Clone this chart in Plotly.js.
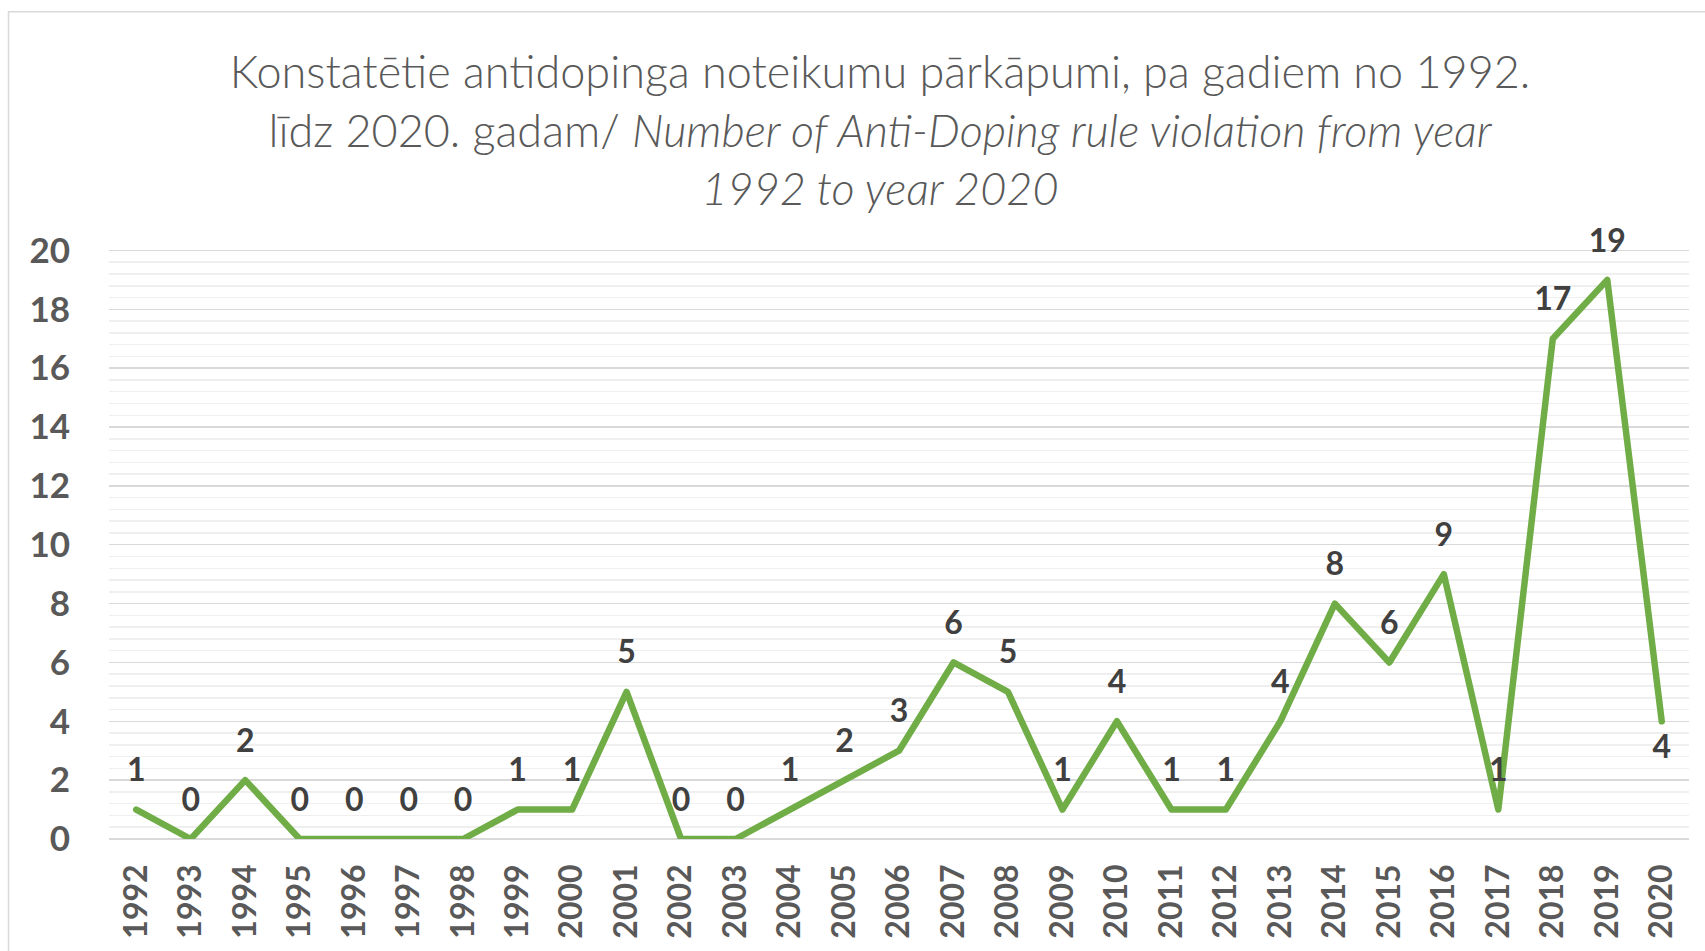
<!DOCTYPE html>
<html>
<head>
<meta charset="utf-8">
<script src="https://cdn.plot.ly/plotly-3.0.1.min.js"></script>
<style>
  html, body { margin: 0; padding: 0; background: #ffffff; }
  #chart { width: 1705px; height: 951px; }
  #chart .js-line { stroke-linejoin: round !important; stroke-linecap: round !important; }
</style>
</head>
<body>
<div id="chart"></div>
<script>
// ---- Data ----
const years = ['1992','1993','1994','1995','1996','1997','1998','1999','2000','2001',
               '2002','2003','2004','2005','2006','2007','2008','2009','2010','2011',
               '2012','2013','2014','2015','2016','2017','2018','2019','2020'];
const violations = [1,0,2,0,0,0,0,1,1,5,
                    0,0,1,2,3,6,5,1,4,1,
                    1,4,8,6,9,1,17,19,4];
const labelPositions = years.map((y) => y === '2020' ? 'bottom center' : 'top center');

const titleText = 'Konstatētie antidopinga noteikumu pārkāpumi, pa gadiem no 1992.<br>' +
                  'līdz 2020. gadam/ <i>Number of Anti-Doping rule violation from year</i><br>' +
                  '<i>1992 to year 2020</i>';

// ---- Geometry helpers (pixel -> paper) ----
const W = 1705, H = 951;
const YTOP = 20.05;
const M = { l: 109, r: 16, t: 248.5, b: 112 };
const pw = W - M.l - M.r, ph = H - M.t - M.b;
const px2x = (px) => (px - M.l) / pw;
const py2y = (py) => (H - M.b - py) / ph;

const FONT = 'Lato, Carlito, Calibri, "DejaVu Sans", sans-serif';

const trace = {
  type: 'scatter',
  mode: 'lines+markers+text',
  x: years,
  y: violations,
  text: violations.map(String),
  textposition: labelPositions,
  textfont: { family: FONT, size: 32, color: '#404040', weight: 700 },
  line: { color: '#70ad47', width: 6.5 },
  marker: { size: years.map((y) => y === '2020' ? 18 : 31), opacity: 0, color: '#70ad47' },
  cliponaxis: false,
  hoverinfo: 'x+y'
};

const layout = {
  width: W,
  height: H,
  margin: M,
  paper_bgcolor: '#ffffff',
  plot_bgcolor: '#ffffff',
  showlegend: false,
  title: {
    text: titleText,
    font: { family: FONT, size: 45, color: '#595959', weight: 300 },
    xref: 'container',
    x: 880 / W,
    xanchor: 'center',
    yref: 'container',
    y: 1 - 88 / H,
    yanchor: 'top'
  },
  xaxis: {
    type: 'category',
    range: [-0.5, years.length - 0.5],
    tickangle: -90,
    tickfont: { family: FONT, size: 32, color: '#595959', weight: 700 },
    showgrid: false,
    zeroline: false,
    showline: false,
    ticks: '',
    ticklabelstandoff: 18,
    fixedrange: true
  },
  yaxis: {
    range: [0, YTOP],
    dtick: 2,
    tick0: 0,
    tickfont: { family: FONT, size: 35, color: '#595959', weight: 700 },
    showgrid: true,
    gridcolor: '#d9d9d9',
    gridwidth: 1.5,
    zeroline: true,
    zerolinecolor: '#d9d9d9',
    zerolinewidth: 1.5,
    showline: false,
    ticks: '',
    ticklabelstandoff: 38,
    minor: { dtick: 0.4, tick0: 0, showgrid: true, gridcolor: '#efefef', gridwidth: 1.5 },
    fixedrange: true
  },
  shapes: [{
    type: 'rect',
    xref: 'paper', yref: 'paper',
    x0: px2x(8.5), x1: px2x(W + 20),
    y0: py2y(H + 20), y1: py2y(11),
    line: { color: '#d9d9d9', width: 1.5 },
    fillcolor: 'rgba(0,0,0,0)',
    layer: 'below'
  }]
};

Plotly.newPlot('chart', [trace], layout, { displayModeBar: false, staticPlot: true });
</script>
</body>
</html>
